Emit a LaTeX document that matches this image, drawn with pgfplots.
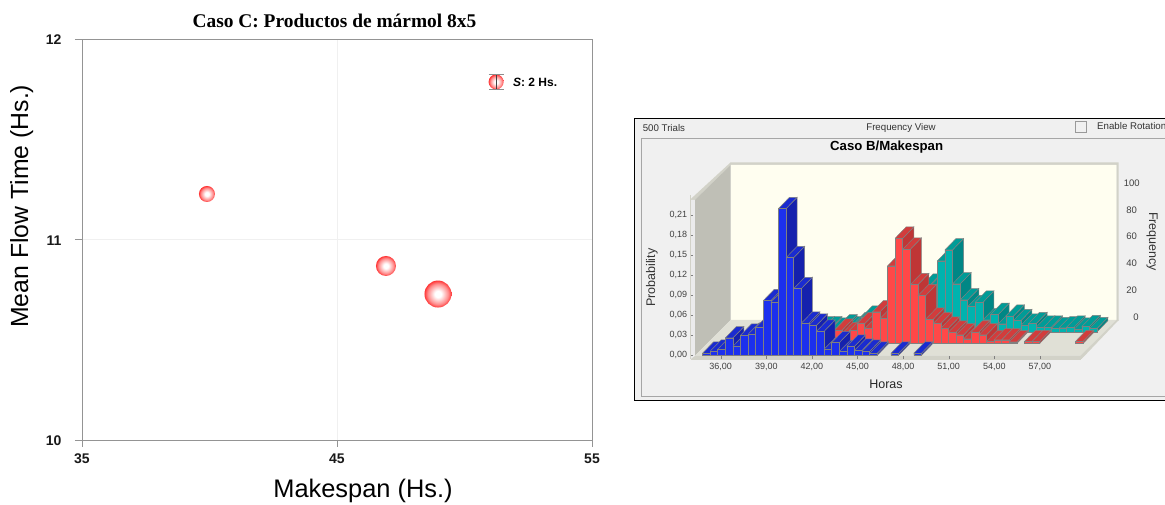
\documentclass[border=0pt]{standalone}
\usepackage{fontspec}
\setmainfont{Liberation Sans}
\newfontfamily\timesf{Liberation Serif}
\usepackage{pgfplots}
\pgfplotsset{compat=1.18}
\definecolor{panel}{HTML}{F0F0F0}
\definecolor{wallb}{HTML}{FFFEF0}
\definecolor{walll}{HTML}{BFBFB6}
\definecolor{floorc}{HTML}{E0E0D6}
\definecolor{rim}{HTML}{D2D2C8}
\definecolor{edgec}{HTML}{808080}
\definecolor{bf}{HTML}{1C30EE}\definecolor{bs}{HTML}{1521AD}\definecolor{bt}{HTML}{1A2BD0}
\definecolor{rf}{HTML}{FF4848}\definecolor{rs}{HTML}{BF3636}\definecolor{rt}{HTML}{D23C3C}
\definecolor{tf}{HTML}{00B3AE}\definecolor{ts}{HTML}{008785}\definecolor{tt}{HTML}{009C97}
\pgfdeclareradialshading{bub}{\pgfpointorigin}{color(0bp)=(white); color(6bp)=(white); color(19bp)=(red!45!white); color(29bp)=(red); color(100bp)=(red)}
\newcommand{\fs}[1]{\fontsize{#1}{#1}\selectfont}
\newcommand{\barthree}[7]{%
  \pgfmathsetmacro\xa{#1+#3}\pgfmathsetmacro\xb{\xa+0.5}\pgfmathsetmacro\xc{\xb+0.724}\pgfmathsetmacro\xd{\xa+0.724}%
  \pgfmathsetmacro\yb{#4}\pgfmathsetmacro\yt{#4+#2}\pgfmathsetmacro\yc{\yt+0.017}\pgfmathsetmacro\ye{\yb+0.017}%
  \addplot[fill=#6,draw=edgec,line width=0.5pt] coordinates {(\xb,\yb)(\xc,\ye)(\xc,\yc)(\xb,\yt)(\xb,\yb)};%
  \addplot[fill=#7,draw=edgec,line width=0.5pt] coordinates {(\xa,\yt)(\xb,\yt)(\xc,\yc)(\xd,\yc)(\xa,\yt)};%
  \addplot[fill=#5,draw=edgec,line width=0.5pt] coordinates {(\xa,\yb)(\xb,\yb)(\xb,\yt)(\xa,\yt)(\xa,\yb)};%
}
\newcommand{\B}[2]{\barthree{#1}{#2}{0}{0}{bf}{bs}{bt}}
\newcommand{\R}[2]{\barthree{#1}{#2}{0.776}{0.01755}{rf}{rs}{rt}}
\newcommand{\T}[2]{\barthree{#1}{#2}{1.552}{0.0351}{tf}{ts}{tt}}
\begin{document}
\begin{tikzpicture}[x=1pt,y=1pt]
\useasboundingbox (0,0) rectangle (1165,505);
% panel furniture in pixel coordinates
\begin{axis}[at={(0,0)},anchor=south west,scale only axis,width=1165pt,height=505pt,
  xmin=0,xmax=1165,ymin=0,ymax=505,y dir=reverse,hide axis,clip=true]
\addplot[fill=panel,draw=black,line width=0.9pt] coordinates {(1170,118.3)(634.8,118.3)(634.8,400)(1170,400)};
\addplot[draw=gray!70,line width=0.7pt] coordinates {(1170,138.3)(641.3,138.3)(641.3,396)(1170,396)};
\addplot[fill=black!6,draw=gray!80,line width=0.6pt] coordinates {(1075.4,121.7)(1086.7,121.7)(1086.7,132.3)(1075.4,132.3)(1075.4,121.7)};
% walls and floor
\addplot[fill=rim,draw=none] coordinates {(690.75,199)(730.7,162.3)(1118.7,162.3)(1118.7,321)(1116.3,321)(1116.3,165)(730.7,165)(694.8,200)(690.75,200)(690.75,199)};
\addplot[fill=wallb,draw=none] coordinates {(730.7,165)(1116.3,165)(1116.3,320)(730.7,320)(730.7,165)};
\addplot[fill=walll,draw=none] coordinates {(694.8,200)(730.7,165)(730.7,320)(694.8,355.7)(694.8,200)};
\addplot[fill=floorc,draw=none] coordinates {(694.8,355.7)(730.7,320)(1116.3,320)(1080.5,355.7)(694.8,355.7)};
\addplot[fill=rim,draw=none] coordinates {(690.75,355.7)(1080.5,355.7)(1116.3,320)(1118.7,320)(1081.5,359)(690.75,359)(690.75,355.7)};
\addplot[fill=white!92!black,draw=none] coordinates {(690.75,200)(694.8,200)(694.8,356)(690.75,359)(690.75,200)};
\end{axis}
% left chart
\begin{axis}[at={(82pt,65pt)},anchor=south west,scale only axis,width=510pt,height=401pt,
  xmin=35,xmax=55,ymin=10,ymax=12,clip=false,
  axis line style={draw=black!42,line width=0.9pt},
  xtick={35,45,55},ytick={10,11,12},xticklabels={35,45,55},yticklabels={10,11,12},
  tick pos=lower,tick align=outside,
  tick style={draw=black!42,line width=0.7pt},major tick length=7pt,
  tick label style={font=\fs{14}\bfseries,text=black!90},
  xticklabel style={yshift=-3pt},yticklabel style={xshift=-10pt,yshift=-1pt},
  grid=major,grid style={draw=black!6,line width=0.8pt},
  xlabel={Makespan (Hs.)},ylabel={Mean Flow Time (Hs.)},
  every axis x label/.style={at={(axis description cs:0.551,-0.128)},anchor=center,font=\fs{25.4}},
  every axis y label/.style={at={(axis description cs:-0.118,0.583)},anchor=center,rotate=90,font=\fs{24.8}},
  title={\timesf\bfseries\fs{19.4}Caso C: Productos de mármol 8x5},
  every axis title/.style={at={(axis description cs:0.495,1.045)},anchor=center}]
\addplot[draw=none,mark=none,nodes near coords={},every node near coord/.style={circle,anchor=center,inner sep=0pt,minimum size=16pt,shading=bub}] coordinates {(39.9,11.227)};
\addplot[draw=none,mark=none,nodes near coords={},every node near coord/.style={circle,anchor=center,inner sep=0pt,minimum size=20pt,shading=bub}] coordinates {(46.92,10.868)};
\addplot[draw=none,mark=none,nodes near coords={},every node near coord/.style={circle,anchor=center,inner sep=0pt,minimum size=27pt,shading=bub}] coordinates {(48.96,10.728)};
\addplot[draw=none,mark=none,nodes near coords={},every node near coord/.style={circle,anchor=center,inner sep=0pt,minimum size=15pt,shading=bub}] coordinates {(51.24,11.786)};
\node[anchor=west,inner sep=0pt,font=\fs{12}\bfseries] at (axis cs:51.9,11.786) {\textit{S}: 2 Hs.};
\end{axis}
% legend whisker, in a matching axis so that it sits over the bubble
\begin{axis}[at={(82pt,65pt)},anchor=south west,scale only axis,width=510pt,height=401pt,
  xmin=35,xmax=55,ymin=10,ymax=12,clip=false,hide axis]
\addplot[draw=none,mark=none,error bars/.cd,y dir=both,y explicit,error bar style={draw=black!75,line width=0.6pt},error mark options={rotate=90,mark size=7.5pt,draw=black!45,line width=0.7pt}] coordinates {(51.24,11.786) +- (0,0.0375)};
\end{axis}
% 3D-look histogram: hours on x, probability on y
\begin{axis}[at={(690.75pt,146pt)},anchor=south west,scale only axis,width=389.75pt,height=163.7pt,
  xmin=34.03,xmax=59.67,ymin=-0.0055,ymax=0.24,clip=false,
  axis x line*=bottom,axis y line*=left,
  axis line style={draw=rim,line width=0.8pt,-},
  xtick={36,39,42,45,48,51,54,57},xticklabels={36{,}00,39{,}00,42{,}00,45{,}00,48{,}00,51{,}00,54{,}00,57{,}00},
  ytick={0,0.03,0.06,0.09,0.12,0.15,0.18,0.21},yticklabels={0{,}00,0{,}03,0{,}06,0{,}09,0{,}12,0{,}15,0{,}18,0{,}21},
  tick style={draw=black!50,line width=0.4pt},major tick length=2.5pt,
  tick label style={font=\fs{9},text=black!75},
  xticklabel style={yshift=-1pt},yticklabel style={xshift=0pt}]
% teal row
\T{40.7}{.006}\T{41.2}{.006}\T{41.7}{.004}\T{42.2}{.009}\T{42.7}{.006}\T{43.2}{.012}\T{43.7}{.022}
\T{44.2}{.02}\T{44.7}{.02}\T{45.2}{.03}\T{45.7}{.04}\T{46.2}{.05}\T{46.7}{.06}\T{47.2}{.06}\T{47.7}{.07}\T{48.2}{.068}
\T{48.7}{.1065}\T{49.2}{.123}\T{49.7}{.072}\T{50.2}{.048}\T{50.7}{.038}\T{51.2}{.0445}\T{51.7}{.018}\T{52.2}{.026}
\T{52.7}{.012}\T{53.2}{.0235}\T{53.7}{.017}\T{54.2}{.01}\T{54.7}{.0125}\T{55.2}{.007}\T{55.7}{.007}\T{56.2}{.005}
\T{56.7}{.006}\T{57.2}{.007}\T{57.7}{.004}\T{58.2}{.008}\T{58.7}{.005}
% red row
\R{42.2}{.008}\R{42.7}{.02}\R{43.2}{.015}\R{43.7}{.02}\R{44.2}{.03}\R{44.7}{.0225}\R{45.2}{.0475}\R{45.7}{.0375}
\R{46.2}{.1165}\R{46.7}{.158}\R{47.2}{.1415}\R{47.7}{.0885}\R{48.2}{.072}\R{48.7}{.0365}\R{49.2}{.03}\R{49.7}{.023}
\R{50.2}{.017}\R{50.7}{.013}\R{51.2}{.007}\R{51.7}{.017}\R{52.2}{.013}\R{52.7}{.003}\R{53.2}{.0055}\R{53.7}{.0055}
\R{54.2}{.0025}\R{55.2}{.003}\R{55.7}{.003}\R{58.55}{.003}
% blue row
\B{34.8}{.003}\B{35.3}{.006}\B{35.8}{.009}\B{36.3}{.026}\B{36.8}{.0135}\B{37.3}{.03}\B{37.8}{.0315}\B{38.3}{.0415}
\B{38.8}{.082}\B{39.3}{.0795}\B{39.8}{.22}\B{40.3}{.1465}\B{40.8}{.1}\B{41.3}{.048}\B{41.8}{.045}\B{42.3}{.036}
\B{42.8}{.009}\B{43.3}{.019}\B{43.8}{.0055}\B{44.3}{.0135}\B{44.8}{.0075}\B{45.3}{.006}\B{45.8}{.003}\B{47.2}{.003}\B{48.7}{.003}
\end{axis}
% panel text, on top
\begin{axis}[at={(0,0)},anchor=south west,scale only axis,width=1165pt,height=505pt,
  xmin=0,xmax=1165,ymin=0,ymax=505,y dir=reverse,hide axis,clip=false]
\node[anchor=west,inner sep=0pt,font=\fs{9.7},text=black!80] at (axis cs:642.6,128) {500 Trials};
\node[font=\fs{9.7},text=black!80] at (axis cs:901,128) {Frequency View};
\node[anchor=west,inner sep=0pt,font=\fs{9.7},text=black!80] at (axis cs:1097,126.5) {Enable Rotation};
\node[font=\fs{13.2}\bfseries] at (axis cs:886.6,147) {Caso B/Makespan};
\node[font=\fs{12.5},rotate=90,text=black!80] at (axis cs:652,277.7) {Probability};
\node[font=\fs{12.5},rotate=-90,text=black!80] at (axis cs:1152,241.7) {Frequency};
\node[font=\fs{12.5},text=black!85] at (axis cs:886,384.7) {Horas};
\node[font=\fs{9.5},text=black!75] at (axis cs:1131.7,183.3) {100};
\node[font=\fs{9.5},text=black!75] at (axis cs:1131.7,210) {80};
\node[font=\fs{9.5},text=black!75] at (axis cs:1131.7,236.7) {60};
\node[font=\fs{9.5},text=black!75] at (axis cs:1131.7,263.7) {40};
\node[font=\fs{9.5},text=black!75] at (axis cs:1131.7,290) {20};
\node[font=\fs{9.5},text=black!75] at (axis cs:1136,317) {0};
\end{axis}
\end{tikzpicture}
\end{document}
